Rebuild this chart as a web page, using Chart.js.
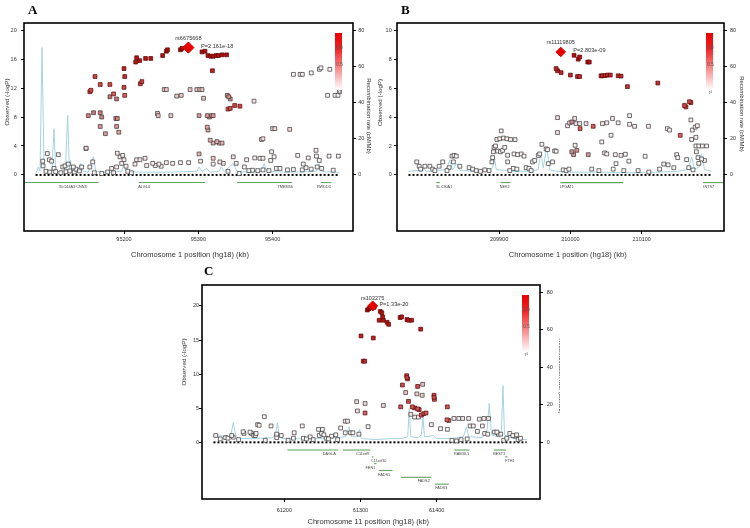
<!DOCTYPE html>
<html>
<head>
<meta charset="utf-8">
<script src="https://cdn.jsdelivr.net/npm/chart.js@4.4.1/dist/chart.umd.min.js"></script>
<style>
  body { margin: 0; background: #fff; }
  #page { position: relative; width: 750px; height: 528px; overflow: hidden; background: #fff; }
  canvas { position: absolute; }
  .tag { position: absolute; font: bold 13px "Liberation Serif", "Times New Roman", serif; line-height: 1; color: #000; }
</style>
</head>
<body>
<div id="page">
  <canvas id="panelA" width="380" height="265" style="left:0;top:0"></canvas>
  <canvas id="panelB" width="378" height="265" style="left:372px;top:0"></canvas>
  <canvas id="panelC" width="380" height="258" style="left:180px;top:270px"></canvas>
  <div class="tag" style="left:28px;top:3px">A</div>
  <div class="tag" style="left:401px;top:3px">B</div>
  <div class="tag" style="left:204px;top:264px">C</div>
</div>
<script>
Chart.defaults.font.family = '"Liberation Sans", Arial, sans-serif';
Chart.defaults.color = '#333';

const recTicks = [0, 20, 40, 60, 80];

// ---------- panel A : chromosome 1, rs6675668 ----------
const leadA = [95286.6, 17.6];
const posA = [
  95200, 95215.7, 95217, 95221, 95229, 95236, 95252, 95257, 95258.5, 95276, 95278, 95305, 95309, 95313, 95317, 95320, 95324, 95327, 95332, 95338, 95319,
  95201, 95161, 95154, 95155.5, 95168, 95181, 95200, 95222, 95224, 95340, 95343, 95349, 95356,
  95181, 95186, 95190, 95201, 95152, 95159, 95168, 95170, 95189, 95191, 95339, 95341, 95343,
  95168, 95175, 95190, 95193, 95301, 95312, 95315, 95318, 95320, 95312, 95313, 95316, 95320, 95325, 95328, 95332,
  95245, 95246, 95254, 95257, 95263, 95271, 95277, 95289, 95298, 95302, 95305, 95307, 95149, 95301, 95320, 95385, 95387, 95400, 95403, 95423, 95375,
  95428, 95437, 95440, 95452, 95463, 95465, 95477, 95474, 95484, 95488, 95490,
  95090.6, 95096.8, 95091, 95099.5, 95102.6, 95111.6, 95105.8, 95117.5, 95120.6, 95125, 95131.8, 95135.4, 95143, 95148.8, 95154, 95157.9,
  95095, 95100, 95108, 95115, 95122, 95127, 95133, 95140, 95183.4, 95191, 95190, 95194.6, 95198.2, 95200, 95196.9, 95202.7,
  95217, 95221.5, 95228.3, 95214.8, 95230.5, 95238.6, 95242, 95247, 95250, 95257, 95265.5, 95276, 95287, 95303, 95320, 95333.6,
  95365, 95376, 95383, 95387, 95398.7, 95402, 95397.4, 95373, 95380, 95387, 95395, 95405, 95410, 95420, 95428, 95440,
  95433.8, 95441.3, 95448, 95458.4, 95459, 95462.8, 95476, 95445, 95452, 95460, 95466, 95481.6, 95488.5, 95329, 95347, 95351, 95362, 95368,
  95160, 95170, 95178, 95186, 95205, 95210, 95340, 95355
];
const logpA = [
  14.7, 15.6, 16.2, 15.8, 16.1, 16.1, 16.5, 17.1, 17.3, 17.3, 17.5, 17.0, 17.1, 16.5, 16.4, 16.4, 16.5, 16.5, 16.6, 16.6, 14.4,
  13.6, 13.6, 11.5, 11.7, 12.5, 12.5, 12.1, 12.6, 12.9, 9.1, 9.2, 9.6, 9.5,
  10.8, 11.2, 10.5, 11.0, 8.2, 8.6, 8.6, 8.0, 7.8, 7.8, 11.0, 10.8, 10.5,
  6.7, 5.7, 6.7, 5.9, 8.2, 8.2, 8.0, 8.2, 8.2, 6.6, 6.2, 4.8, 4.4, 4.6, 4.4, 4.4,
  8.5, 8.2, 11.8, 11.8, 8.2, 10.9, 11.0, 11.8, 11.8, 11.8, 11.8, 10.6, 3.7, 2.9, 2.3, 4.9, 5.0, 6.4, 6.4, 6.3, 10.2,
  13.9, 13.9, 13.9, 14.1, 14.6, 14.8, 14.6, 11.0, 11.0, 11.0, 11.5,
  1.9, 2.96, 1.25, 2.1, 1.9, 2.8, 0.9, 1.1, 1.25, 1.5, 1.1, 0.8, 1.1, 3.65, 1.1, 1.8,
  0.5, 0.4, 0.45, 0.3, 0.45, 0.55, 0.4, 0.55, 0.9, 3.0, 1.1, 2.5, 2.7, 2.1, 1.6, 1.2,
  2.1, 2.1, 2.3, 1.5, 1.3, 1.6, 1.3, 1.5, 1.2, 1.7, 1.6, 1.7, 1.7, 1.9, 1.5, 1.6,
  2.1, 2.35, 2.3, 2.3, 3.2, 2.5, 2.0, 0.65, 0.6, 0.7, 0.6, 0.9, 0.9, 0.7, 0.75, 0.7,
  2.7, 1.5, 2.35, 3.4, 2.6, 2.0, 2.6, 1.0, 0.8, 1.1, 0.9, 0.65, 2.6, 1.8, 2.5, 1.6, 1.1, 0.6,
  0.3, 0.2, 0.4, 0.3, 0.5, 0.3, 0.5, 0.2
];
const r2A = [
  0.86, 0.9, 0.92, 0.9, 0.92, 0.92, 0.94, 0.95, 0.95, 0.96, 0.96, 0.95, 0.95, 0.93, 0.93, 0.93, 0.93, 0.93, 0.94, 0.94, 0.85,
  0.8, 0.72, 0.68, 0.68, 0.7, 0.7, 0.72, 0.72, 0.74, 0.66, 0.66, 0.7, 0.7,
  0.58, 0.6, 0.56, 0.6, 0.52, 0.54, 0.54, 0.5, 0.5, 0.5, 0.45, 0.45, 0.44,
  0.42, 0.38, 0.42, 0.38, 0.4, 0.4, 0.38, 0.4, 0.4, 0.36, 0.35, 0.32, 0.3, 0.32, 0.3, 0.3,
  0.25, 0.25, 0.22, 0.22, 0.2, 0.22, 0.22, 0.24, 0.24, 0.24, 0.24, 0.22, 0.15, 0.3, 0.2, 0.12, 0.12, 0.15, 0.15, 0.15, 0.1,
  0.04, 0.04, 0.04, 0.04, 0.05, 0.05, 0.04, 0.03, 0.03, 0.03, 0.04,
  0.05, 0.06, 0.04, 0.05, 0.05, 0.06, 0.03, 0.04, 0.04, 0.05, 0.04, 0.03, 0.04, 0.08, 0.04, 0.05,
  0.02, 0.02, 0.03, 0.02, 0.02, 0.03, 0.02, 0.03, 0.05, 0.1, 0.05, 0.08, 0.08, 0.07, 0.06, 0.05,
  0.08, 0.08, 0.1, 0.06, 0.05, 0.06, 0.05, 0.06, 0.05, 0.07, 0.06, 0.07, 0.07, 0.08, 0.06, 0.07,
  0.05, 0.06, 0.06, 0.06, 0.08, 0.06, 0.05, 0.02, 0.02, 0.02, 0.02, 0.03, 0.03, 0.02, 0.02, 0.02,
  0.06, 0.04, 0.05, 0.07, 0.05, 0.04, 0.05, 0.03, 0.02, 0.03, 0.02, 0.02, 0.05, 0.1, 0.12, 0.08, 0.05, 0.03,
  0.02, 0.02, 0.02, 0.02, 0.03, 0.02, 0.03, 0.02
];
const recPosA = [95081, 95083, 95084.6, 95087, 95089.6, 95092.5, 95097, 95103, 95105.8, 95108, 95114, 95121, 95124.2, 95126.5, 95128, 95130, 95137, 95141.7, 95145, 95152, 95158.7, 95162, 95175, 95190, 95197, 95199.6, 95203, 95225, 95255, 95280, 95298, 95301, 95305, 95311, 95316, 95328, 95331, 95335, 95347, 95352, 95370, 95385, 95388.5, 95392, 95420, 95450, 95459, 95462.5, 95466, 95480, 95490];
const recRateA = [1.5, 2, 4.4, 2, 70.4, 2, 1.5, 2.5, 25.6, 2.5, 1.5, 2.5, 33, 2.5, 8, 2, 1.5, 6.3, 2, 1.5, 10, 2, 1.5, 1.8, 2, 6.3, 2, 1.5, 1.5, 1.8, 2, 4.4, 2, 3.5, 1.5, 2, 4.4, 2, 6.3, 2, 1.5, 2, 6.3, 2, 1.5, 1.8, 2, 6.3, 2, 1.5, 1.5];
const baseA = [95081, 95489];
const geneNameA = ['SLC44A3 CNN3', 'ALG14', 'TMEM56', 'RWDD3'];
const geneStartA = [95065, 95220, 95352, 95465];
const geneEndA = [95166, 95309, 95426, 95479];
const geneRowA = [0, 0, 0, 0];
const geneLabelAtA = [95131, 95227, 95417, 95469];
const xTicksA = [95200, 95300, 95400];
const yTicksA = [0, 4, 8, 12, 16, 20];

// ---------- panel B : chromosome 1, rs11119805 ----------
const leadB = [209986.5, 8.5];
const posB = [
  210005.2, 210011, 210013, 210024.4, 210026.5,
  209980, 209982, 209987, 210000, 210010, 210013, 210043, 210045, 210049, 210052, 210056, 210067, 210071, 210080, 210122.6,
  210160, 210162, 210167, 210169, 210154, 210032, 210013.6,
  210002, 210004.5, 210025, 210002, 210009,
  209982, 209982, 210006, 209996, 209999, 210008, 210013, 210022, 210045, 210051, 210059, 210067, 210083, 210083, 210090, 210044, 210057, 210006.6, 209980, 210048, 210051, 210063, 210071, 210064, 210077, 210082, 210104.8, 210109.5, 210136, 210139,
  210149, 210150.5, 210163, 210131, 210137, 210169, 210171, 210175, 210178, 210170, 210176, 210176, 210180, 210185, 210191, 210176.7, 210179, 210184, 210188, 210180, 210166, 210172,
  209890, 209891, 209892, 209893, 209895, 209903, 209897, 209901, 209906, 209911, 209916, 209898, 209902, 209905, 209908, 209912, 209922.5, 209921, 209926, 209931, 209935, 209912, 209920, 209925, 209938, 209942, 209947, 209950, 209955, 209957, 209960, 209966, 209968, 209978, 209975, 209969, 209990, 209994, 209998, 209886, 209880, 209915, 209945,
  210030, 210040, 210060, 210075, 210095, 210110, 210125, 210145,
  209784.6, 209788, 209790, 209796, 209803, 209807, 209810, 209816, 209821, 209834, 209837, 209840, 209836, 209845, 209830, 209827, 209858, 209863, 209868, 209874
];
const logpB = [
  8.27, 8.0, 8.15, 7.8, 7.8,
  7.35, 7.2, 7.07, 6.9, 6.8, 6.8, 6.85, 6.85, 6.87, 6.9, 6.9, 6.85, 6.83, 6.1, 6.35,
  4.8, 4.7, 5.06, 5.0, 2.74, 3.36, 3.2,
  1.6, 1.4, 1.4, 3.66, 1.7,
  3.96, 2.93, 3.9, 3.4, 3.6, 3.55, 3.55, 3.55, 3.55, 3.6, 3.9, 3.6, 4.1, 3.5, 3.36, 2.28, 2.74, 2.05, 1.64, 1.52, 1.45, 1.4, 1.35, 0.78, 1.43, 0.95, 1.29, 3.36, 3.2, 3.1,
  1.4, 1.2, 1.06, 0.75, 0.7, 3.8, 3.1, 3.3, 3.4, 2.45, 2.6, 2.0, 2.0, 2.0, 2.0, 1.6, 1.2, 1.1, 1.0, 0.8, 0.5, 0.35,
  0.9, 1.2, 1.6, 1.9, 2.0, 3.04, 2.45, 2.5, 2.55, 2.5, 2.45, 1.65, 1.6, 1.7, 1.9, 1.36, 2.44, 1.45, 1.4, 1.45, 1.3, 0.9, 0.45, 0.4, 0.5, 0.45, 0.9, 1.0, 1.35, 1.45, 2.12, 1.8, 1.75, 1.66, 0.9, 0.78, 0.35, 0.3, 0.4, 0.3, 0.35, 0.3, 0.3,
  0.4, 0.3, 0.4, 0.3, 0.3, 0.2, 0.4, 0.5,
  0.9, 0.6, 0.4, 0.6, 0.6, 0.4, 0.3, 0.6, 0.9, 1.3, 1.35, 1.3, 0.9, 0.6, 0.5, 0.3, 0.5, 0.4, 0.3, 0.25
];
const r2B = [
  0.95, 0.93, 0.93, 0.92, 0.92,
  0.85, 0.84, 0.84, 0.83, 0.82, 0.82, 0.83, 0.83, 0.83, 0.84, 0.84, 0.83, 0.83, 0.8, 0.8,
  0.7, 0.68, 0.72, 0.7, 0.6, 0.62, 0.6,
  0.45, 0.42, 0.42, 0.48, 0.45,
  0.12, 0.1, 0.12, 0.1, 0.1, 0.1, 0.1, 0.1, 0.08, 0.08, 0.08, 0.08, 0.06, 0.06, 0.06, 0.06, 0.06, 0.08, 0.06, 0.05, 0.05, 0.05, 0.05, 0.04, 0.05, 0.04, 0.04, 0.05, 0.05, 0.05,
  0.04, 0.04, 0.04, 0.03, 0.03, 0.08, 0.07, 0.07, 0.07, 0.06, 0.06, 0.05, 0.05, 0.05, 0.05, 0.04, 0.04, 0.04, 0.03, 0.03, 0.02, 0.02,
  0.03, 0.04, 0.05, 0.05, 0.05, 0.08, 0.06, 0.06, 0.06, 0.06, 0.06, 0.04, 0.04, 0.04, 0.05, 0.04, 0.06, 0.04, 0.04, 0.04, 0.04, 0.03, 0.02, 0.02, 0.02, 0.02, 0.03, 0.03, 0.04, 0.04, 0.06, 0.05, 0.05, 0.05, 0.03, 0.03, 0.02, 0.02, 0.02, 0.02, 0.02, 0.02, 0.02,
  0.02, 0.02, 0.02, 0.02, 0.02, 0.02, 0.02, 0.02,
  0.03, 0.02, 0.02, 0.02, 0.02, 0.02, 0.02, 0.02, 0.03, 0.04, 0.04, 0.04, 0.03, 0.02, 0.02, 0.02, 0.02, 0.02, 0.02, 0.02
];
const recPosB = [209773, 209785, 209792, 209795, 209798, 209815, 209826, 209831, 209835, 209840.7, 209845, 209865, 209885, 209891, 209893.5, 209896, 209920, 209945, 209955, 209958.5, 209962, 209967, 209971, 209980, 210000, 210040, 210080, 210120, 210150, 210165, 210170, 210174, 210180, 210184, 210188, 210198];
const recRateB = [2, 2.5, 2, 3.5, 2, 2.5, 3, 8.1, 3, 6.3, 2.5, 2, 2.5, 4, 10, 3, 2, 2, 3, 12.7, 4, 15.5, 3, 2, 1.5, 1.5, 1.2, 1.5, 2, 3, 10, 3.5, 4, 11.8, 3, 2];
const baseB = [209773, 210198];
const geneNameB = ['SLC30A1', 'NEK2', 'LPGAT1', 'INTS7'];
const geneStartB = [209812, 209902, 209986, 210186];
const geneEndB = [209817, 209916, 210074, 210230];
const geneRowB = [0, 0, 0, 0];
const geneLabelAtB = [209823, 209908, 209995, 210194];
const xTicksB = [209900, 210000, 210100];
const yTicksB = [0, 2, 4, 6, 8, 10];

// ---------- panel C : chromosome 11, rs102275 ----------
const leadC = [61316, 20.0];
const posC = [
  61309, 61311, 61313, 61314.5, 61318,
  61326, 61328, 61324.5, 61330, 61329, 61335, 61337, 61352, 61354, 61361, 61363, 61367, 61379, 61300.7, 61316.8, 61303.7, 61305.5,
  61360.6, 61361, 61361.8, 61355, 61375, 61396.5, 61396.5, 61397, 61363, 61352.8, 61368, 61371, 61375, 61377, 61380, 61383, 61386, 61414, 61306, 61413.5, 61416,
  61306, 61295, 61296, 61330, 61359.3, 61381.6, 61374, 61381, 61366, 61371, 61376, 61405, 61414, 61393, 61422.7, 61429, 61434, 61442, 61444, 61448, 61456, 61460, 61462, 61468, 61453.5, 61463, 61467, 61476, 61479, 61481, 61484, 61496, 61500, 61503, 61505, 61310, 61280, 61283, 61274, 61280, 61287, 61290, 61298,
  61173.8, 61165, 61167, 61182.6, 61146, 61155, 61157, 61160, 61162, 61163, 61190, 61196, 61213, 61223.6, 61234, 61245, 61250, 61246, 61249, 61252, 61262, 61267.6, 61131, 61133, 61123, 61126, 61110, 61147, 61190, 61212, 61225, 61229, 61255, 61258, 61116, 61140, 61175, 61205, 61238, 61270,
  61420, 61426, 61432, 61440, 61488, 61492, 61507, 61510
];
const logpC = [
  19.4, 19.6, 19.8, 19.9, 19.8,
  19.2, 19.0, 17.9, 17.9, 18.4, 17.6, 17.3, 18.3, 18.4, 18.0, 17.9, 17.9, 16.6, 15.6, 15.3, 11.9, 11.9,
  9.77, 9.5, 9.3, 8.4, 8.2, 6.9, 6.6, 6.3, 6.0, 5.2, 5.2, 5.05, 4.9, 4.8, 4.0, 4.2, 4.3, 5.2, 4.3, 3.3, 3.2,
  5.7, 5.96, 4.6, 5.4, 7.3, 8.5, 7.1, 6.9, 4.1, 3.7, 3.7, 2.0, 1.9, 2.6, 3.5, 3.5, 3.5, 3.5, 2.4, 2.4, 3.4, 2.4, 3.5, 3.5, 1.6, 1.3, 1.2, 1.5, 1.5, 1.2, 1.2, 1.3, 1.0, 0.9, 1.1, 2.3, 3.1, 3.1, 2.1, 1.4, 1.4, 1.4, 1.2,
  3.75, 2.6, 2.5, 2.4, 1.55, 1.5, 1.3, 1.0, 1.0, 1.3, 1.2, 1.0, 1.4, 2.4, 0.8, 1.9, 1.9, 1.0, 1.3, 1.1, 0.9, 1.1, 1.0, 0.75, 0.7, 0.6, 1.0, 1.3, 0.7, 0.6, 0.6, 0.5, 0.6, 0.5, 0.5, 0.4, 0.3, 0.3, 0.4, 0.4,
  0.3, 0.2, 0.4, 0.5, 0.3, 0.6, 0.4, 0.6
];
const r2C = [
  0.97, 0.98, 0.98, 0.99, 0.98,
  0.92, 0.92, 0.9, 0.9, 0.9, 0.9, 0.9, 0.9, 0.9, 0.9, 0.9, 0.9, 0.88, 0.86, 0.86, 0.82, 0.82,
  0.72, 0.72, 0.7, 0.68, 0.68, 0.7, 0.7, 0.68, 0.7, 0.66, 0.66, 0.65, 0.66, 0.65, 0.62, 0.64, 0.64, 0.66, 0.6, 0.6, 0.58,
  0.15, 0.15, 0.12, 0.15, 0.25, 0.25, 0.2, 0.2, 0.1, 0.08, 0.08, 0.05, 0.05, 0.06, 0.08, 0.08, 0.08, 0.08, 0.06, 0.06, 0.07, 0.06, 0.07, 0.07, 0.04, 0.04, 0.04, 0.04, 0.04, 0.03, 0.03, 0.03, 0.03, 0.02, 0.03, 0.06, 0.08, 0.08, 0.05, 0.04, 0.04, 0.04, 0.04,
  0.06, 0.05, 0.05, 0.05, 0.04, 0.04, 0.03, 0.03, 0.03, 0.03, 0.03, 0.03, 0.04, 0.05, 0.02, 0.04, 0.04, 0.03, 0.03, 0.03, 0.02, 0.03, 0.03, 0.02, 0.02, 0.02, 0.03, 0.03, 0.02, 0.02, 0.02, 0.02, 0.02, 0.02, 0.02, 0.02, 0.02, 0.02, 0.02, 0.02,
  0.02, 0.02, 0.02, 0.02, 0.02, 0.02, 0.02, 0.02
];
const recPosC = [61107, 61120, 61125, 61130, 61133, 61136, 61140, 61160, 61185, 61189, 61191, 61193, 61196, 61220, 61250, 61270, 61280, 61285, 61288, 61296, 61299, 61301, 61320, 61340, 61355, 61362, 61364, 61366, 61375, 61380, 61382, 61384, 61396, 61400, 61420, 61435, 61439, 61442, 61460, 61466, 61469, 61472, 61480, 61485, 61487, 61489, 61500, 61518];
const recRateC = [3.5, 3.5, 2.5, 4, 10.5, 4, 2, 2, 2.5, 5, 10.5, 5, 2, 2, 2, 2.5, 3, 8.3, 3, 3, 7, 2, 1.5, 2, 2, 3, 18, 3, 2.5, 4, 13.5, 3, 3.5, 2, 2, 3, 8.3, 3, 2.5, 6, 20.8, 4, 3, 6, 30.2, 4, 2, 1.5];
const baseC = [61107, 61518];
const geneNameC = ['DAGLA', 'C11orf9', 'C11orf10', 'FEN1', 'FADS1', 'FADS2', 'FADS3', 'RAB3IL1', 'BEST1', 'FTH1'];
const geneStartC = [61204, 61277, 61315, 61318, 61324, 61353, 61398, 61423, 61475, 61490];
const geneEndC = [61271, 61313, 61317, 61321, 61342, 61393, 61416, 61443, 61491, 61493];
const geneRowC = [0, 0, 1, 2, 3, 4, 5, 0, 0, 1];
const geneLabelAtC = [61259, 61303, 61324, 61313, 61331, 61383, 61406, 61432.6, 61482, 61496];
const xTicksC = [61200, 61300, 61400];
const yTicksC = [0, 5, 10, 15, 20];

// ---------- drawing ----------
function fillFor(r) {
  const gb = Math.round(255 * (1 - r));
  return 'rgb(' + Math.round(255 - 85 * r) + ',' + gb + ',' + gb + ')';
}
function edgeFor(r) {
  return r >= 0.6 ? '#5a0000' : '#333';
}
const pairs = (xs, ys) => xs.map((x, i) => ({x: x, y: ys[i]}));
const small = s => s + 'px "Liberation Sans", Arial, sans-serif';

function decor(P) {
  return {
    id: 'decor',
    afterDraw(chart) {
      const ctx = chart.ctx, a = chart.chartArea, x = chart.scales.x, y = chart.scales.y;
      ctx.save();
      // gene track
      ctx.save();
      ctx.beginPath();
      ctx.rect(a.left, a.top, a.right - a.left, a.bottom - a.top);
      ctx.clip();
      ctx.strokeStyle = '#5ea35e';
      ctx.lineWidth = 1.1;
      ctx.fillStyle = '#444';
      ctx.font = small(3.8);
      ctx.textAlign = 'center';
      ctx.textBaseline = 'middle';
      P.genes.name.forEach((name, i) => {
        const gy = y.getPixelForValue(P.geneY0 - P.geneStep * P.genes.row[i]);
        ctx.beginPath();
        ctx.moveTo(x.getPixelForValue(P.genes.start[i]), gy);
        ctx.lineTo(x.getPixelForValue(P.genes.end[i]), gy);
        ctx.stroke();
        ctx.fillText(name, x.getPixelForValue(P.genes.label[i]), gy + 4);
      });
      ctx.restore();

      // frame
      ctx.strokeStyle = '#000';
      ctx.lineWidth = 1.6;
      ctx.strokeRect(a.left, a.top, a.right - a.left, a.bottom - a.top);

      // r2 key
      const kx = a.right - 18, ky = a.top + 10, kw = 7, kh = 57;
      const g = ctx.createLinearGradient(0, ky, 0, ky + kh);
      g.addColorStop(0, '#ea0000');
      g.addColorStop(0.28, '#f02424');
      g.addColorStop(1, '#ffffff');
      ctx.fillStyle = g;
      ctx.fillRect(kx, ky, kw, kh);
      ctx.fillStyle = '#555';
      ctx.font = small(4.6);
      ctx.textAlign = 'center';
      ctx.textBaseline = 'middle';
      ctx.fillText('0.8', kx + kw / 2 + 1, ky + kh * 0.26);
      ctx.fillText('0.5', kx + kw / 2 + 1, ky + kh * 0.55);
      ctx.fillText('r\u00B2', kx + kw / 2 + 1, ky + kh + 3);

      // lead SNP annotation
      const lx = x.getPixelForValue(P.lead[0]), ly = y.getPixelForValue(P.lead[1]);
      ctx.fillStyle = '#333';
      ctx.font = small(5.6);
      ctx.fillText(P.leadName, lx, ly - P.nameDy);
      ctx.textAlign = 'left';
      ctx.fillText(P.leadP, lx + P.pDx, ly - 1);

      // axis titles
      ctx.fillStyle = '#333';
      ctx.textAlign = 'center';
      ctx.font = small(7.5);
      ctx.fillText(P.xTitle, P.tx[0], P.tx[1]);
      ctx.font = small(6.2);
      ctx.save();
      ctx.translate(P.tyL[0], P.tyL[1]);
      ctx.rotate(-Math.PI / 2);
      ctx.fillText('Observed (-logP)', 0, 0);
      ctx.restore();
      ctx.font = small(6);
      ctx.save();
      ctx.translate(P.tyR[0], P.tyR[1]);
      ctx.rotate(Math.PI / 2);
      ctx.fillText('Recombination rate (cM/Mb)', 0, 0);
      ctx.restore();
      ctx.restore();
    }
  };
}

function makePanel(id, P) {
  const order = P.r2.map((r, i) => i).sort((i, j) => P.r2[i] - P.r2[j]);
  const pts = order.map(i => ({x: P.pos[i], y: P.logp[i]}));
  const tickGrid = {drawOnChartArea: false, tickLength: 3, color: '#000', lineWidth: 1};
  new Chart(document.getElementById(id), {
    type: 'scatter',
    data: {
      datasets: [
        {data: [{x: P.lead[0], y: P.lead[1]}], pointStyle: 'rectRot', pointRadius: P.leadR,
         backgroundColor: '#e80000', borderColor: '#d00000', borderWidth: 1, order: 0},
        {data: pts, pointStyle: 'rect', pointRadius: 2.7,
         backgroundColor: order.map(i => fillFor(P.r2[i])),
         borderColor: order.map(i => edgeFor(P.r2[i])), borderWidth: 0.7, order: 1},
        {type: 'line', data: pairs(P.base, [0, 0]), borderColor: '#000', borderWidth: 2,
         borderDash: [2, 2], pointRadius: 0, fill: false, order: 2},
        {type: 'line', data: pairs(P.recPos, P.recRate), yAxisID: 'yR', borderColor: '#a6d3e2',
         borderWidth: 1, pointRadius: 0, fill: false, tension: 0, order: 3}
      ]
    },
    options: {
      responsive: false,
      animation: false,
      events: [],
      layout: {padding: {top: P.padTop, left: 0, right: 0, bottom: 0}},
      plugins: {legend: {display: false}, tooltip: {enabled: false}},
      scales: {
        x: {
          type: 'linear', min: P.xMin, max: P.xMax,
          afterBuildTicks: s => { s.ticks = P.xTicks.map(v => ({value: v})); },
          afterFit: s => { s.height = P.xH; },
          grid: tickGrid, border: {display: false},
          ticks: {font: {size: 5.5}, color: '#333', padding: P.xPad, maxRotation: 0, autoSkip: false, callback: v => String(v)}
        },
        y: {
          position: 'left', min: P.yMin, max: P.yMax,
          afterBuildTicks: s => { s.ticks = P.yTicks.map(v => ({value: v})); },
          afterFit: s => { s.width = P.lW; },
          grid: tickGrid, border: {display: false},
          ticks: {font: {size: 5.5}, color: '#333', padding: P.lPad, autoSkip: false, callback: v => String(v)}
        },
        yR: {
          position: 'right', min: P.rMin, max: P.rMax,
          afterBuildTicks: s => { s.ticks = recTicks.map(v => ({value: v})); },
          afterFit: s => { s.width = P.rW; },
          grid: tickGrid, border: {display: false},
          ticks: {font: {size: 5.5}, color: '#333', padding: P.rPad, autoSkip: false, callback: v => String(v)}
        }
      }
    },
    plugins: [decor(P)]
  });
}

makePanel('panelA', {
  pos: posA, logp: logpA, r2: r2A, lead: leadA, leadR: 5.6,
  recPos: recPosA, recRate: recRateA, base: baseA,
  genes: {name: geneNameA, start: geneStartA, end: geneEndA, row: geneRowA, label: geneLabelAtA},
  geneY0: -1.05, geneStep: 0.95,
  xTicks: xTicksA, yTicks: yTicksA,
  xMin: 95065.4, xMax: 95508.2, yMin: -7.75, yMax: 21.0, rMin: -31, rMax: 84,
  padTop: 23, xH: 34, lW: 24, rW: 27, xPad: 1.7, lPad: 4.3, rPad: 2.3,
  leadName: 'rs6675668', leadP: 'P=2.161e-18', nameDy: 9, pDx: 12.7,
  xTitle: 'Chromosome 1 position (hg18) (kb)', tx: [190, 255.3], tyL: [7, 102], tyR: [368.5, 116]
});

makePanel('panelB', {
  pos: posB, logp: logpB, r2: r2B, lead: leadB, leadR: 4.8,
  recPos: recPosB, recRate: recRateB, base: baseB,
  genes: {name: geneNameB, start: geneStartB, end: geneEndB, row: geneRowB, label: geneLabelAtB},
  geneY0: -0.53, geneStep: 0.48,
  xTicks: xTicksB, yTicks: yTicksB,
  xMin: 209756.9, xMax: 210215.4, yMin: -3.875, yMax: 10.5, rMin: -31, rMax: 84,
  padTop: 23, xH: 34, lW: 25, rW: 26, xPad: 1.7, lPad: 2.3, rPad: 3,
  leadName: 'rs11119805', leadP: 'P=2.803e-09', nameDy: 9, pDx: 12.6,
  xTitle: 'Chromosome 1 position (hg18) (kb)', tx: [195.8, 255.3], tyL: [8, 102.5], tyR: [370, 114]
});

makePanel('panelC', {
  pos: posC, logp: logpC, r2: r2C, lead: leadC, leadR: 5,
  recPos: recPosC, recRate: recRateC, base: baseC,
  genes: {name: geneNameC, start: geneStartC, end: geneEndC, row: geneRowC, label: geneLabelAtC},
  geneY0: -1.13, geneStep: 1.0,
  xTicks: xTicksC, yTicks: yTicksC,
  xMin: 61092, xMax: 61535.6, yMin: -8.31, yMax: 23.07, rMin: -30.2, rMax: 83.9,
  padTop: 15, xH: 29, lW: 22, rW: 20, xPad: 4.7, lPad: 0, rPad: 3.7,
  leadName: 'rs102275', leadP: 'P=1.33e-20', nameDy: 7.7, pDx: 6.7,
  xTitle: 'Chromosome 11 position (hg18) (kb)', tx: [188.3, 252.3], tyL: [4, 92], tyR: [380.5, 106]
});
</script>
</body>
</html>
